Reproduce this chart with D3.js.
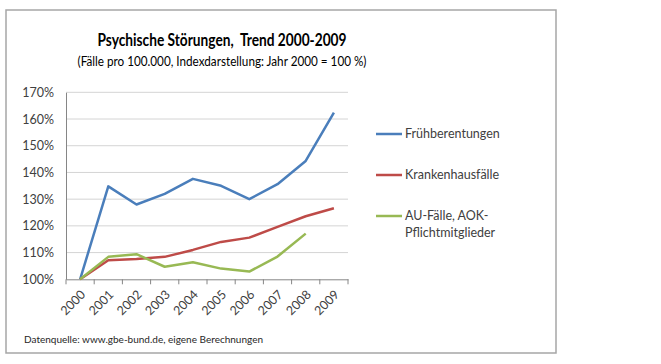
<!DOCTYPE html>
<html><head><meta charset="utf-8">
<script src="https://cdn.jsdelivr.net/npm/d3@7"></script>
<style>body{margin:0;background:#fff}svg{display:block}text{font-family:Lato,"Open Sans",sans-serif;white-space:pre}</style>
</head><body><svg id="c" width="661" height="364"></svg>
<script>
const years = ["2000","2001","2002","2003","2004","2005","2006","2007","2008","2009"];
const fruehberentungen = [100,134.8,128,132,137.6,135,130,135.6,144.3,162.4];
const krankenhausfaelle = [100,107.1,107.6,108.4,111,114,115.6,119.6,123.6,126.6];
const auFaelle = [100,108.4,109.4,104.7,106.4,104,102.9,108.5,117.1,null];
const seriesNames = ["Frühberentungen","Krankenhausfälle",["AU-Fälle, AOK-","Pflichtmitglieder"]];
const seriesColors = ["#4a7ebb","#be4b48","#98b954"];
const yTicks = [100,110,120,130,140,150,160,170];
const titleText = "Psychische Störungen,  Trend 2000-2009";
const subtitleText = "(Fälle pro 100.000, Indexdarstellung: Jahr 2000 = 100 %)";
const sourceText = "Datenquelle: www.gbe-bund.de, eigene Berechnungen";

(function(){
const svg = d3.select("#c");
svg.append("rect").attr("x",6).attr("y",10).attr("width",550).attr("height",343)
  .attr("fill","#fff").attr("stroke","#a6a6a6").attr("stroke-width",1.5);

const pLeft=66, pRight=348, pTop=92.3, pBottom=279.3;
const x = d3.scaleBand().domain(years).range([pLeft,pRight]);
const y = d3.scaleLinear().domain([100,170]).range([pBottom,pTop]);

svg.append("g").selectAll("line").data(yTicks.slice(1)).join("line")
  .attr("x1",pLeft).attr("x2",pRight).attr("y1",d=>y(d)).attr("y2",d=>y(d))
  .attr("stroke","#d4d4d4").attr("stroke-width",1);

const ya = svg.append("g").attr("transform",`translate(${pLeft},0)`)
  .call(d3.axisLeft(y).tickValues(yTicks).tickFormat(d=>d+"%").tickSize(0).tickPadding(12));
ya.select(".domain").attr("stroke","#868686");
ya.selectAll("text").attr("font-size",12.5).attr("fill","#404040").attr("font-family","Lato,'Open Sans',sans-serif");

const xa = svg.append("g").attr("transform",`translate(0,${pBottom})`)
  .call(d3.axisBottom(x).tickSize(0).tickFormat(""));
xa.select(".domain").attr("stroke","#868686");
svg.append("g").selectAll("line").data(years.concat(["end"])).join("line")
  .attr("x1",(d,i)=>pLeft+i*x.step()).attr("x2",(d,i)=>pLeft+i*x.step())
  .attr("y1",pBottom).attr("y2",pBottom+5).attr("stroke","#868686");
svg.append("g").selectAll("text").data(years).join("text")
  .attr("transform",d=>`translate(${x(d)+x.bandwidth()/2+3},${pBottom+13}) rotate(-45)`)
  .attr("text-anchor","end").attr("dy","0.35em")
  .attr("font-size",12.5).attr("fill","#404040").text(d=>d);

const allSeries=[fruehberentungen,krankenhausfaelle,auFaelle];
const line = d3.line().defined(d=>d!=null)
  .x((d,i)=>x(years[i])+x.bandwidth()/2).y(d=>y(d));
allSeries.forEach((s,k)=>{
  svg.append("path").datum(s).attr("d",line).attr("fill","none")
    .attr("stroke",seriesColors[k]).attr("stroke-width",2.5).attr("stroke-linejoin","round");
});

const legY=[134,175,216];
seriesNames.forEach((n,k)=>{
  svg.append("line").attr("x1",376).attr("x2",402).attr("y1",legY[k]).attr("y2",legY[k])
    .attr("stroke",seriesColors[k]).attr("stroke-width",2.5);
  const lines = Array.isArray(n)?n:[n];
  lines.forEach((t,j)=>{
    svg.append("text").attr("x",405).attr("y",legY[k]+j*16.5).attr("dy","0.35em")
      .attr("font-size",12.5).attr("fill","#404040").text(t);
  });
});

svg.append("text").attr("x",222).attr("y",46).attr("text-anchor","middle")
  .attr("font-size",16.5).attr("font-weight","bold").attr("fill","#000")
  .attr("textLength",249).attr("lengthAdjust","spacingAndGlyphs").text(titleText);
svg.append("text").attr("x",222).attr("y",66).attr("text-anchor","middle")
  .attr("font-size",13.5).attr("fill","#000")
  .attr("textLength",289).attr("lengthAdjust","spacingAndGlyphs").text(subtitleText);
svg.append("text").attr("x",24).attr("y",343)
  .attr("font-size",10).attr("fill","#262626").text(sourceText);
})();
</script></body></html>
